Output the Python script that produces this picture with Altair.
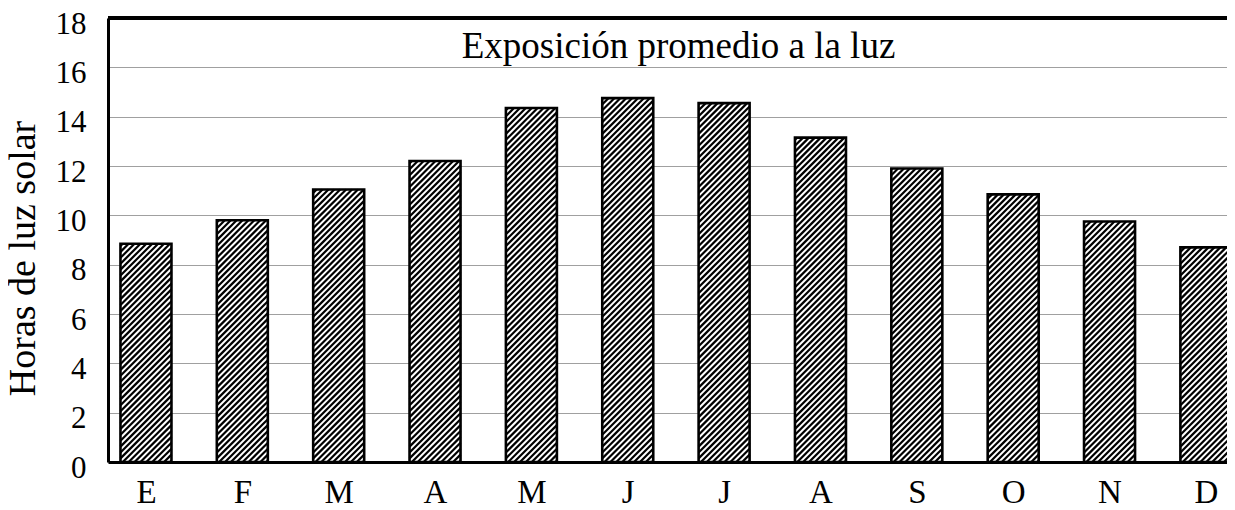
import altair as alt
import pandas as pd

# ---- data ----
months = ["E", "F", "M", "A", "M", "J", "J", "A", "S", "O", "N", "D"]
hours = [8.85, 9.8, 11.05, 12.2, 14.35, 14.75, 14.55, 13.15, 11.9, 10.85, 9.75, 8.7]
y_ticks = [0, 2, 4, 6, 8, 10, 12, 14, 16, 18]
title_text = "Exposición promedio a la luz"
y_title = "Horas de luz solar"

df = pd.DataFrame({"i": list(range(len(months))), "mes": months, "v": hours})

# ---- layout / style ----
PLOT_W = 1119
PLOT_H = 444
X_MIN, X_MAX = -0.394, 11.219
Y_MAX = 18
SX = PLOT_W / (X_MAX - X_MIN)   # px per x unit
SY = PLOT_H / Y_MAX             # px per y unit
BAR_W = 51                      # bar width in px
HATCH_S = 5.9                   # horizontal spacing of hatch lines in px
FONT = "Liberation Serif"

label_expr = "[" + ",".join("'%s'" % m for m in months) + "][datum.value]"

x_scale = alt.Scale(domain=[X_MIN, X_MAX], nice=False, zero=False, padding=0)
y_scale = alt.Scale(domain=[0, Y_MAX], nice=False, zero=True, padding=0)

x_enc = alt.X(
    "i:Q",
    scale=x_scale,
    axis=alt.Axis(
        values=list(range(len(months))),
        labelExpr=label_expr,
        title=None,
        grid=False,
        ticks=False,
        tickSize=0,
        domainColor="black",
        domainWidth=3,
        labelFont=FONT,
        labelFontSize=33,
        labelColor="black",
        labelFlush=False,
        labelPadding=14,
    ),
)
y_enc = alt.Y(
    "v:Q",
    scale=y_scale,
    axis=alt.Axis(
        values=y_ticks,
        title=y_title,
        titleFont=FONT,
        titleFontSize=38,
        titleFontWeight="normal",
        titleColor="black",
        titleX=-74,
        titleY=240,
        titleBaseline="alphabetic",
        titleAngle=270,
        grid=True,
        gridColor="#a0a0a0",
        gridWidth=1,
        ticks=False,
        tickSize=0,
        domainColor="black",
        domainWidth=3,
        labelFont=FONT,
        labelFontSize=31,
        labelColor="black",
        labelFlush=False,
        labelPadding=22,
        labelOffset=6,
    ),
)

base = alt.Chart(df)

bars_fill = base.mark_bar(size=BAR_W, color="white").encode(
    x=x_enc, y=y_enc, y2=alt.datum(0)
)

hatch = (
    base.transform_calculate(k="sequence(0, 90)")
    .transform_flatten(["k"])
    .transform_calculate(
        H=f"datum.v * {SY}",
        c=f"-{BAR_W} + datum.k * {HATCH_S} + 1.5",
    )
    .transform_calculate(
        u0="max(0, -datum.c)",
        u1=f"min({BAR_W}, datum.H - datum.c)",
    )
    .transform_filter("datum.u1 > datum.u0")
    .transform_calculate(
        hx=f"datum.i - {BAR_W / 2} / {SX} + datum.u0 / {SX}",
        hx2=f"datum.i - {BAR_W / 2} / {SX} + datum.u1 / {SX}",
        hy=f"(datum.u0 + datum.c) / {SY}",
        hy2=f"(datum.u1 + datum.c) / {SY}",
    )
    .mark_rule(color="black", strokeWidth=2.2)
    .encode(
        x=alt.X("hx:Q", scale=x_scale, axis=None),
        x2="hx2:Q",
        y=alt.Y("hy:Q", scale=y_scale, axis=None),
        y2="hy2:Q",
    )
)

bars_outline = base.mark_bar(
    size=BAR_W, fill="white", fillOpacity=0, stroke="black", strokeWidth=2.6
).encode(
    x=alt.X("i:Q", scale=x_scale, axis=None),
    y=alt.Y("v:Q", scale=y_scale, axis=None),
    y2=alt.datum(0),
)

top_rule = base.mark_rule(color="black", strokeWidth=3).encode(
    y=alt.Y(datum=Y_MAX, scale=y_scale, axis=None)
)

title_mark = (
    alt.Chart(pd.DataFrame({"t": [title_text]}))
    .mark_text(font=FONT, fontSize=37, color="black", baseline="alphabetic", align="center")
    .encode(text="t:N", x=alt.value(PLOT_W / 2 + 11), y=alt.value(40))
)

chart = (
    alt.layer(bars_fill, hatch, bars_outline, top_rule, title_mark)
    .resolve_axis(x="independent", y="independent")
    .properties(
        width=PLOT_W,
        height=PLOT_H,
        autosize=alt.AutoSizeParams(type="none"),
        padding={"left": 100, "top": 10, "right": 0, "bottom": 48},
    )
    .configure_view(stroke=None)
    .configure(background="white")
    .configure_axis(labelFont=FONT, titleFont=FONT)
)

chart.save("out.html", embed_options={"renderer": "svg", "actions": False})
